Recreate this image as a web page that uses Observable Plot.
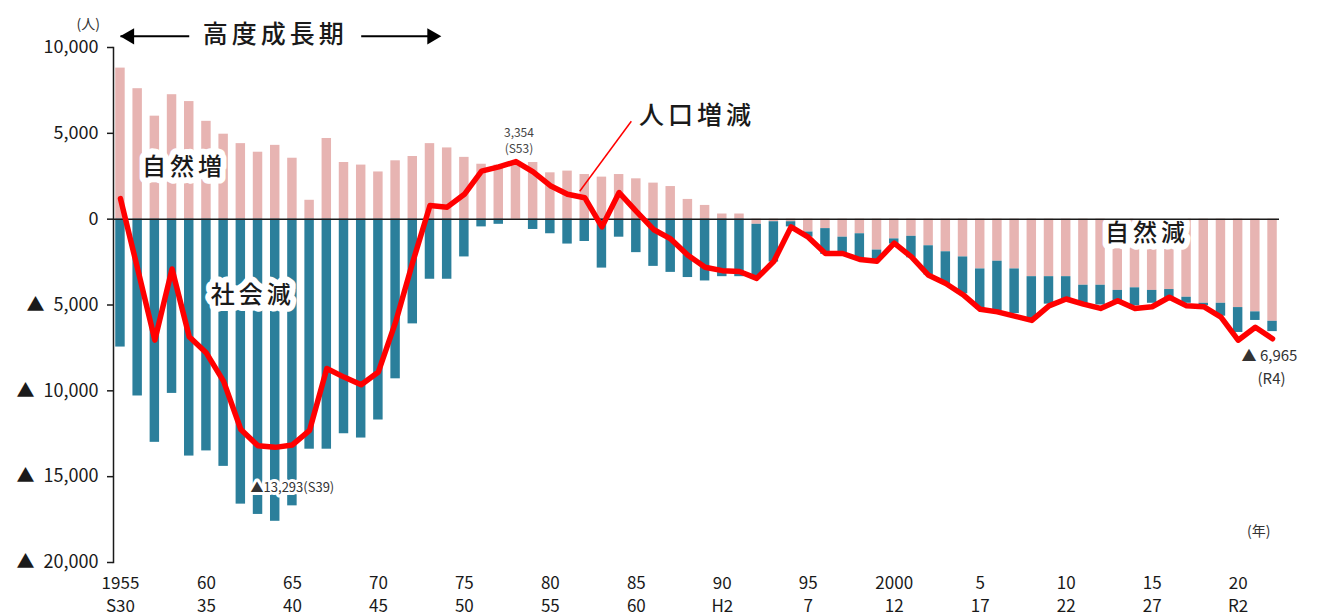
<!DOCTYPE html>
<html><head><meta charset="utf-8">
<script src="https://cdn.jsdelivr.net/npm/d3@7"></script>
<script src="https://cdn.jsdelivr.net/npm/@observablehq/plot@0.6"></script>
<style>html,body{margin:0;padding:0;background:#fff;overflow:hidden}#chart svg{display:block}</style>
</head><body><div id="chart"></div>
<script>
const years = [1955,1956,1957,1958,1959,1960,1961,1962,1963,1964,1965,1966,1967,1968,1969,1970,1971,1972,1973,1974,
  1975,1976,1977,1978,1979,1980,1981,1982,1983,1984,1985,1986,1987,1988,1989,1990,1991,1992,1993,1994,
  1995,1996,1997,1998,1999,2000,2001,2002,2003,2004,2005,2006,2007,2008,2009,2010,2011,2012,2013,2014,
  2015,2016,2017,2018,2019,2020,2021,2022];
// 自然増減 (natural change)
const natural = [8800,7600,6000,7250,6850,5700,4950,4400,3900,4300,3550,1100,4700,3300,3150,2750,3400,3650,4400,4150,
  3600,3200,3150,3300,3300,2700,2800,2600,2450,2600,2350,2100,1900,1150,800,300,300,-300,-150,-150,
  -750,-550,-1050,-850,-1800,-1150,-1000,-1550,-1900,-2200,-2900,-2450,-2900,-3350,-3350,-3350,-3850,-3850,-4150,-4000,
  -4150,-4100,-4550,-4900,-4900,-5150,-5400,-5950];
// 社会増減 (social change)
const social = [-7450,-10300,-13000,-10150,-13800,-13500,-14400,-16600,-17200,-17600,-16700,-13400,-13400,-12500,-12750,-11700,-9300,-6100,-3500,-3500,
  -2200,-450,-300,50,-600,-850,-1450,-1300,-2850,-1050,-1950,-2750,-3100,-3400,-3600,-3350,-3350,-3150,-2350,-300,
  -300,-1500,-950,-1450,-600,-300,-1250,-1700,-1850,-2150,-2350,-2900,-2600,-2450,-1600,-1400,-1100,-1150,-650,-1050,
  -750,-550,-350,-150,-750,-1450,-500,-600];
// 人口増減 (total change)
const total = [1200,-2900,-7050,-2900,-6850,-7800,-9450,-12250,-13200,-13293,-13150,-12300,-8700,-9200,-9650,-8900,-6000,-2500,800,700,
  1450,2800,3050,3354,2750,1950,1450,1250,-450,1550,450,-600,-1150,-2100,-2800,-3000,-3050,-3450,-2450,-450,
  -1050,-2000,-2000,-2350,-2450,-1400,-2200,-3270,-3750,-4400,-5250,-5400,-5650,-5900,-5050,-4650,-4950,-5200,-4750,-5200,
  -5100,-4550,-5050,-5100,-5700,-7050,-6300,-6965];

const tickYears = [1955,1960,1965,1970,1975,1980,1985,1990,1995,2000,2005,2010,2015,2020];
const tickWestern = ["1955","60","65","70","75","80","85","90","95","2000","5","10","15","20"];
const tickJapanese = ["S30","35","40","45","50","55","60","H2","7","12","17","22","27","R2"];
const yTicks = [10000,5000,0,-5000,-10000,-15000,-20000];

const seriesNames = ["自然増減","社会増減"];
const bars = years.flatMap((yr, i) => [
  {year: yr, type: seriesNames[0], value: natural[i]},
  {year: yr, type: seriesNames[1], value: social[i]}
]);
const totals = years.map((yr, i) => ({year: yr, value: total[i]}));

const font = "'Noto Sans CJK JP', 'Noto Sans', sans-serif";
const fmt = d3.format(",");
const ink = "#1a1a1a";
const one = [0];

const bigLabels = [
  {text: "自然増", year: 1959, value: 2970, dx: -6},
  {text: "社会減", year: 1963, value: -4480, dx: 2},
  {text: "自然減", year: 2015, value: -880, dx: 0}
];

const chart = Plot.plot({
  width: 1323, height: 615,
  marginTop: 47, marginBottom: 53, marginLeft: 113, marginRight: 44,
  style: {fontFamily: font, background: "#fff", color: ink, overflow: "visible"},
  x: {type: "band", domain: years, paddingInner: 0.45, paddingOuter: 0.13, round: false},
  y: {domain: [-20000, 10000]},
  color: {domain: seriesNames, range: ["#e7b4b2", "#2b7f9b"]},
  marks: [
    Plot.barY(bars, {x: "year", y: "value", fill: "type"}),
    Plot.text(bigLabels, {x: "year", y: "value", dx: "dx", text: "text", fontSize: 24, fontWeight: 500, fill: ink,
      stroke: "white", strokeWidth: 12, strokeLinejoin: "round"}),
    Plot.ruleY([0], {stroke: ink, strokeWidth: 1.5}),
    Plot.frame({anchor: "left", stroke: ink, strokeWidth: 1.5}),
    Plot.axisY({ticks: yTicks, tickFormat: d => d < 0 ? "▲\u2002" + fmt(-d) : fmt(d), tickSize: 6,
      tickPadding: 9, fontSize: 18, label: null, stroke: ink, strokeWidth: 1.5}),
    Plot.axisX({ticks: tickYears, tickFormat: d => tickWestern[tickYears.indexOf(d)] + "\n" + tickJapanese[tickYears.indexOf(d)],
      tickSize: 0, tickPadding: 10, fontSize: 17, lineHeight: 1.35, label: null}),
    Plot.line(totals, {x: "year", y: "value", stroke: "#ff0000", strokeWidth: 5.5, strokeLinejoin: "round", strokeLinecap: "round"}),
    // leader for 人口増減
    Plot.link(one, {x1: 1985, x2: 1982, y1: 5700, y2: 1630, dx: -5, stroke: "#ff0000", strokeWidth: 1.5}),
    Plot.text(["人口増減"], {x: 1988, y: 6000, dx: 9, text: d => d, fontSize: 25, fontWeight: 500, fill: ink}),
    // 高度成長期 with arrows
    Plot.link(one, {x1: 1959, x2: 1955, y1: 10650, y2: 10650, stroke: "#000", strokeWidth: 2}),
    Plot.link(one, {x1: 1969, x2: 1973, y1: 10650, y2: 10650, stroke: "#000", strokeWidth: 2}),
    Plot.dot(one, {x: 1955, y: 10650, dx: 9, symbol: "triangle", r: 6, fill: "#000", rotate: -90}),
    Plot.dot(one, {x: 1973, y: 10650, dx: 2, symbol: "triangle", r: 6, fill: "#000", rotate: 90}),
    Plot.text(["高度成長期"], {x: 1964, y: 10700, text: d => d, fontSize: 25, fontWeight: 500, fill: ink}),
    // value annotations
    Plot.text(["3,354\n(S53)"], {x: 1978, y: 4630, dx: 3, text: d => d, fontSize: 12, lineHeight: 1.4, fill: "#444"}),
    Plot.text(["▲13,293(S39)"], {x: 1965, y: -15670, text: d => d, fontSize: 13, fill: "#333",
      stroke: "white", strokeWidth: 6}),
    Plot.text(["▲ 6,965"], {x: 2022, y: -7980, dx: -31, textAnchor: "start", text: d => d, fontSize: 15, fill: "#333"}),
    Plot.text(["(R4)"], {x: 2022, y: -9320, dx: -15, textAnchor: "start", text: d => d, fontSize: 15, fill: "#333"}),
    Plot.text(["(年)"], {frameAnchor: "bottom-right", dx: -9, dy: -27, text: d => d, fontSize: 14, fill: "#333"}),
    Plot.text(["(人)"], {frameAnchor: "top-left", dx: -37, dy: -28, text: d => d, fontSize: 14, fill: "#333"})
  ]
});

d3.select(chart).selectAll("text").each(function() {
  const t = this.textContent;
  if (["高度成長期","自然増","社会減","自然減","人口増減"].includes(t)) this.setAttribute("letter-spacing", "4");
});
document.getElementById("chart").appendChild(chart);
</script>
</body></html>
